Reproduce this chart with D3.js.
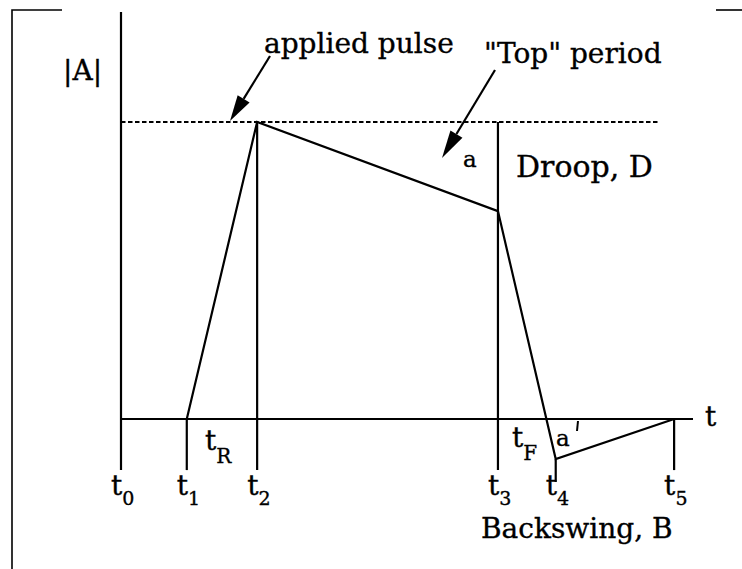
<!DOCTYPE html>
<html>
<head>
<meta charset="utf-8">
<script src="https://cdn.jsdelivr.net/npm/d3@7"></script>
<style>
  html, body { margin: 0; padding: 0; background: #fff; }
  svg { display: block; }
  text { font-family: "DejaVu Serif", "Liberation Serif", serif; fill: #000; stroke: #000; stroke-width: 0.35; }
</style>
</head>
<body>
<svg id="chart" width="742" height="569"></svg>
<script>
// Time markers t0..t5 along the time axis
const tickNames = ["0", "1", "2", "3", "4", "5"];
const tickTimes = [0, 1.15, 2.38, 6.59, 7.6, 9.67];

// Pulse outline: times and normalised amplitude |A|
const pulseTimes = [1.15, 2.38, 6.59, 7.6, 9.67];
const pulseAmps  = [0, 1, 0.70, -0.135, 0];

// Applied (ideal) pulse level
const appliedLevel = 1;

const svg = d3.select("#chart");
const x = d3.scaleLinear().domain([0, 10]).range([121, 693]);
const y = d3.scaleLinear().domain([0, 1]).range([419, 122]);

const ink = "#000";
const sw = 2.2;

// Frame fragments
svg.append("path").attr("d", "M12,569 V10 H62").attr("fill", "none").attr("stroke", ink).attr("stroke-width", 1.6);
svg.append("path").attr("d", "M716,10 H742").attr("fill", "none").attr("stroke", ink).attr("stroke-width", 1.6);

// Amplitude axis (runs down into the t0 marker)
svg.append("line")
  .attr("x1", x(0)).attr("x2", x(0))
  .attr("y1", y(1.37)).attr("y2", y(-0.172))
  .attr("stroke", ink).attr("stroke-width", sw);

// Time axis
svg.append("line")
  .attr("x1", x(0)).attr("x2", x(10))
  .attr("y1", y(0)).attr("y2", y(0))
  .attr("stroke", ink).attr("stroke-width", sw);

// Applied pulse level (dashed)
svg.append("line")
  .attr("x1", x(0)).attr("x2", x(9.39))
  .attr("y1", y(appliedLevel)).attr("y2", y(appliedLevel))
  .attr("stroke", ink).attr("stroke-width", 1.8)
  .attr("stroke-dasharray", "4.5,2.5");

// Marker verticals: t1, t5 from the axis; t2, t3 from the top level; t4 at the backswing
const markerTop = [0, 0, appliedLevel, appliedLevel, pulseAmps[3], 0];
const markerBottom = [-0.172, -0.172, -0.172, -0.172, -0.212, -0.172];
svg.selectAll("line.marker")
  .data(tickTimes.slice(1))
  .join("line")
  .attr("class", "marker")
  .attr("x1", d => x(d)).attr("x2", d => x(d))
  .attr("y1", (d, i) => y(markerTop[i + 1]))
  .attr("y2", (d, i) => y(markerBottom[i + 1]))
  .attr("stroke", ink).attr("stroke-width", sw);

// Pulse outline
const line = d3.line().x(d => x(d[0])).y(d => y(d[1]));
svg.append("path")
  .datum(pulseTimes.map((t, i) => [t, pulseAmps[i]]))
  .attr("d", line)
  .attr("fill", "none").attr("stroke", ink).attr("stroke-width", sw)
  .attr("stroke-linejoin", "miter");

// Marker labels t0..t5
const tl = svg.selectAll("text.tick")
  .data(tickNames)
  .join("text")
  .attr("class", "tick")
  .attr("x", (d, i) => x(tickTimes[i]) - 10)
  .attr("y", 495)
  .attr("font-size", 28);
tl.append("tspan").text("t");
tl.append("tspan").attr("dy", 10).attr("font-size", 19).text(d => d);

// Subscripted interval labels
function subLabel(px, py, main, sub) {
  const t = svg.append("text").attr("x", px).attr("y", py).attr("font-size", 28);
  t.append("tspan").text(main);
  t.append("tspan").attr("dy", 13).attr("font-size", 20).text(sub);
}
subLabel(205, 450, "t", "R");
subLabel(512, 447, "t", "F");

// Plain labels
function label(px, py, str, size) {
  svg.append("text").attr("x", px).attr("y", py).attr("font-size", size || 28).text(str);
}
label(63, 80, "|A|", 28);
label(264, 53, "applied pulse", 28);
label(484, 63, "\"Top\" period", 28);
label(516, 177, "Droop, D", 30);
label(463, 167, "a", 23);
label(556, 446, "a", 23);
label(705, 426, "t", 28);
label(481, 538, "Backswing, B", 28);
// prime mark on a'
svg.append("line").attr("x1", 578).attr("x2", 577).attr("y1", 421).attr("y2", 431)
  .attr("stroke", ink).attr("stroke-width", 2);

// Annotation arrows
function arrow(x0, y0, x1, y1, headLen, headHalf) {
  const dx = x1 - x0, dy = y1 - y0, L = Math.hypot(dx, dy);
  const ux = dx / L, uy = dy / L;
  const bx = x1 - ux * headLen, by = y1 - uy * headLen;
  svg.append("line").attr("x1", x0).attr("y1", y0).attr("x2", bx).attr("y2", by)
    .attr("stroke", ink).attr("stroke-width", 2.2);
  svg.append("path")
    .attr("d", `M${x1},${y1} L${bx - uy * headHalf},${by + ux * headHalf} L${bx + uy * headHalf},${by - ux * headHalf} Z`)
    .attr("fill", ink);
}
arrow(270, 56, 230, 121, 26, 7);
arrow(495, 70, 442, 158, 28, 7);
</script>
</body>
</html>
